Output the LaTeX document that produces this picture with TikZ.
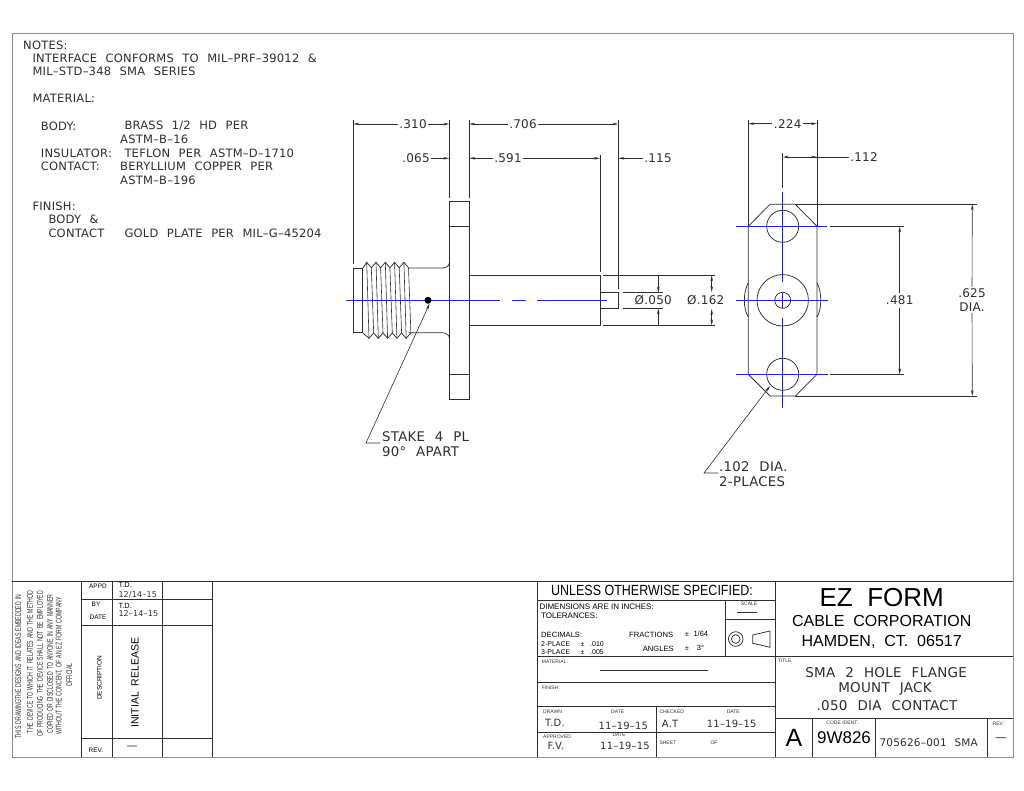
\documentclass[tikz,border=0pt]{standalone}
\usepackage{fontspec}
\setmainfont{Liberation Sans}
\newfontfamily\cadfont[WordSpace=2.2,LetterSpace=2]{DejaVu Sans}
\newfontfamily\headfont[WordSpace=2]{Liberation Sans}
\newfontfamily\condfont[FakeStretch=0.85]{Liberation Sans}
\newfontfamily\narrowfont[FakeStretch=0.62,WordSpace=1.5]{Liberation Sans}
\usetikzlibrary{arrows.meta}
\definecolor{clblue}{RGB}{35,35,205}
\definecolor{ink}{RGB}{45,45,45}
\tikzset{
  >={Stealth[length=6pt,width=2.6pt]},
  part/.style={draw=ink,line width=.75pt},
  dimline/.style={draw=ink,line width=.6pt},
  centerline/.style={draw=clblue,line width=.8pt},
  frameline/.style={draw=ink,line width=.7pt},
  big/.style={inner sep=0pt,text=ink,font=\cadfont\fontsize{#1}{#1}\selectfont},
  lbig/.style={big=#1,anchor=west},
  ltext/.style={lbig=11.5},
  cad/.style={big=12,inner sep=1.5pt},
  sans/.style={inner sep=0pt,text=black,font=\fontsize{#1}{#1}\selectfont},
  lsans/.style={sans=#1,anchor=west},
  head/.style={inner sep=0pt,text=black,font=\headfont\fontsize{#1}{#1}\selectfont},
  tiny/.style={inner sep=0pt,text=ink,font=\fontsize{5}{5}\selectfont},
  ltiny/.style={tiny,anchor=west},
  legal/.style={inner sep=0pt,rotate=90,text=ink,font=\narrowfont\fontsize{8.3}{8.3}\selectfont},
}
\begin{document}
\begin{tikzpicture}[x=1pt,y=-1pt]
\useasboundingbox (0,0) rectangle (1024,791);
\draw[draw=black!45,line width=.8pt] (12,33) rectangle (1013,757);
\node[ltext] (notes) at (23,45) {NOTES:};
\node[ltext] (iface) at (32.3,58.3) {INTERFACE CONFORMS TO MIL–PRF–39012 \&};
\node[ltext] (std) at (32.3,71.7) {MIL–STD–348 SMA SERIES};
\node[ltext] (material) at (32.3,98.3) {MATERIAL:};
\node[ltext] (body) at (40.7,126) {BODY:};
\node[ltext] (brass) at (124.3,126) {BRASS 1/2 HD PER};
\node[ltext] (astma) at (120,139.7) {ASTM–B–16};
\node[ltext] (insul) at (40.7,153) {INSULATOR:};
\node[ltext] (teflon) at (124.3,153) {TEFLON PER ASTM–D–1710};
\node[ltext] (contact) at (40.7,166.3) {CONTACT:};
\node[ltext] (beryl) at (120,166.3) {BERYLLIUM COPPER PER};
\node[ltext] (astmb) at (120,180) {ASTM–B–196};
\node[ltext] (finish) at (32.3,206.7) {FINISH:};
\node[ltext] (bodyc) at (48.3,219.3) {BODY \&};
\node[ltext] (contc) at (48.3,233) {CONTACT};
\node[ltext] (gold) at (124.3,233) {GOLD PLATE PER MIL–G–45204};
\draw[part] (362.7,268) -- (353.3,268) -- (353.3,332.7) -- (362.7,332.7) -- cycle;
\draw[part] (363,268) \foreach \i in {0,...,4} {-- ({366.7+9.3*\i},262.3) -- ({371.3+9.3*\i},267.8)};
\draw[part] (363,333) \foreach \i in {0,...,4} {-- ({369+9.3*\i},338.3) -- ({373.7+9.3*\i},333)};
\foreach \i in {0,...,4}{
  \draw[part,line width=.6pt] ({366.7+9.3*\i},262.3) -- ({369+9.3*\i},338.3);
  \draw[part,line width=.6pt] ({371.3+9.3*\i},267.8) -- ({373.7+9.3*\i},333);
}
\draw[part] (408.5,268) -- (442,268) .. controls (446,268) and (449.3,266) .. (449.3,263);
\draw[part] (408.5,332.7) -- (442,332.7) .. controls (446,332.7) and (449.3,335) .. (449.3,338);
\draw[part] (449.3,201.3) rectangle (469.3,399.3);
\draw[part] (449.3,226) -- (469.3,226) (449.3,374.3) -- (469.3,374.3);
\draw[part] (469.3,275.3) rectangle (600,325.3);
\draw[part] (600,292.7) rectangle (618.3,308.3);
\draw[centerline] (346,300.3) -- (500,300.3) (512,300.3) -- (526,300.3) (537,300.3) -- (606.7,300.3);
\node[circle,fill=black,minimum size=7pt,inner sep=0pt] (stakedot) at (428,300.3) {};
\node[lbig=13.3] (stake) at (382,437) {STAKE 4 PL};
\node[lbig=13.3] (apart) at (382,451.7) {90° APART};
\draw[dimline,<-] (stakedot.-65) -- (366,443) -- (380,443);
\draw[dimline] (353.3,120) -- (353.3,264) (449.3,120) -- (449.3,197.7) (469.3,120) -- (469.3,197.7);
\draw[dimline] (618.3,120) -- (618.3,289.3) (600,155) -- (600,271.7);
\node[cad] (d310) at (413,124) {.310};
\node[cad] (d706) at (523,124) {.706};
\node[cad] (d065) at (416,158.3) {.065};
\node[cad] (d591) at (508,158.3) {.591};
\node[cad] (d115) at (658,158.3) {.115};
\draw[dimline,<-] (353.3,124) -- (d310.west);
\draw[dimline,->] (d310.east) -- (449.3,124);
\draw[dimline,<-] (469.3,124) -- (d706.west);
\draw[dimline,->] (d706.east) -- (618.3,124);
\draw[dimline,->] (d065.east) -- (449.3,158.3);
\draw[dimline,<-] (469.3,158.3) -- (d591.west);
\draw[dimline,->] (d591.east) -- (600,158.3);
\draw[dimline,<-] (618.3,158.3) -- (d115.west);
\draw[dimline] (603,275.3) -- (715,275.3) (603,325.3) -- (715,325.3);
\draw[dimline] (622.7,292.7) -- (662.7,292.7) (622.7,308.3) -- (662.7,308.3);
\node[cad] (dpin) at (653.3,300.5) {Ø.050};
\node[cad] (dshell) at (705.7,300) {Ø.162};
\draw[dimline,->] (658.3,275.3) -- (658.3,292.7);
\draw[dimline,->] (658.3,325.3) -- (658.3,308.3);
\draw[dimline,<->] (711.7,292) -- (711.7,275.3);
\draw[dimline,<->] (711.7,309) -- (711.7,325.3);
\draw[part] (770,204.3) -- (795.3,204.3) -- (817,226.3) -- (817,374.3) -- (795.3,396) -- (770,396) -- (748.3,374.3) -- (748.3,226.3) -- cycle;
\draw[part] (782.7,226.3) circle (16) (782.7,374.3) circle (16) (782.7,300.3) circle (25.7) (782.7,300.3) circle (8);
\draw[part] (748.3,282.7) .. controls (743,292) and (743,309) .. (748.3,317);
\draw[part] (817,282.7) .. controls (822,292) and (822,309) .. (817,317);
\draw[centerline] (736.3,226.3) -- (826.7,226.3) (736.3,300.3) -- (828,300.3) (736.3,374.3) -- (828,374.3);
\draw[centerline] (782.7,191.7) -- (782.7,281.7) (782.7,292.7) -- (782.7,308) (782.7,318.3) -- (782.7,408.3);
\node[cad] (d224) at (787.7,123.7) {.224};
\node[cad] (d112) at (864,157) {.112};
\node[cad,inner ysep=3pt] (d481) at (899.7,300.5) {.481};
\node[cad] (d625) at (972,293) {.625};
\node[cad] (ddia) at (972,306.7) {DIA.};
\draw[dimline] (748.3,120) -- (748.3,226.3) (817,120) -- (817,226.3) (782.7,153) -- (782.7,188);
\draw[dimline,<-] (748.3,123.7) -- (d224.west);
\draw[dimline,->] (d224.east) -- (817,123.7);
\draw[dimline,<-] (782.7,157) -- (d112.west);
\draw[dimline,->] (795,157) -- (817,157);
\draw[dimline] (795.3,204.3) -- (976.7,204.3) (795.3,396) -- (976.7,396);
\draw[dimline] (830,226.3) -- (904,226.3) (830,374.3) -- (904,374.3);
\draw[dimline,<-] (899.7,226.3) -- (d481.north);
\draw[dimline,<-] (899.7,374.3) -- (d481.south);
\draw[dimline,<-] (972.3,204.3) -- (d625.north);
\draw[dimline,<-] (972.3,396) -- (ddia.south);
\node[lbig=13.3] (hole) at (719,466.7) {.102 DIA.};
\node[lbig=13.3] (places) at (719,481.7) {2-PLACES};
\draw[dimline,<-] (770,386) -- (704,473) -- (718,473);
% title block
\draw[frameline] (12,581) -- (1013,581);
\foreach \xpos in {81,112.3,162.3,212.3,537.7,775}{\draw[frameline] (\xpos,581) -- (\xpos,757);}
\foreach \ypos in {599,625,738.3}{\draw[frameline] (81,\ypos) -- (212.3,\ypos);}
\foreach \ypos in {600,656,682.3,706.7,732.3}{\draw[frameline] (537.7,\ypos) -- (775,\ypos);}
\draw[frameline] (725,600) -- (725,656) (725,619.3) -- (775,619.3) (656,706.7) -- (656,757);
\draw[frameline] (775,656.7) -- (1013,656.7) (775,718.7) -- (1013,718.7);
\draw[frameline] (812.3,718.7) -- (812.3,757) (875,718.7) -- (875,757) (987.3,718.7) -- (987.3,757);
\node[legal] (lega) at (18.3,666.5) {THIS DRAWINGTHE DESIGNS AND IDEAS EMBEDDED IN};
\node[legal] (legb) at (30,662) {THE DEVICE TO WHICH IT RELATES AND THE METHOD};
\node[legal] (legc) at (40,664) {OF PRODUCING THE DEVICE SHALL NOT BE EMPLOYED};
\node[legal] (legd) at (50,664) {COPIED OR DISCLOSED TO ANYONE IN ANY MANNER};
\node[legal] (lege) at (59.3,666) {WITHOUT THE CONCENT, OF AN EZ FORM COMPANY};
\node[legal] (legf) at (69.3,675) {OFFICIAL};
\node[sans=6.5] (appd) at (98,586.7) {APPD};
\node[sans=6.5] (by) at (96,604) {BY};
\node[sans=6.5] (bydate) at (98,617) {DATE};
\node[sans=6.5,rotate=90] (descr) at (99.3,677.7) {DESCRIPTION};
\node[sans=6.5] (rev) at (96,750) {REV.};
\node[lsans=7.5] (td) at (118.3,585) {T.D.};
\node[lbig=8] (appdate) at (118.3,595) {12/14–15};
\node[lsans=7.5] (tdb) at (118.3,606) {T.D.};
\node[lbig=8] (bdate) at (118.3,614) {12–14–15};
\node[sans=10.5,rotate=90] (release) at (135,682.7) {INITIAL\ \ RELEASE};
\node[big=11] (revdash) at (132,748) {—};
\node[inner sep=0pt,text=black,font=\condfont\fontsize{14.7}{14.7}\selectfont] (unless) at (652,590) {UNLESS OTHERWISE SPECIFIED:};
\node[lsans=8] (dims) at (539.3,606.7) {DIMENSIONS ARE IN INCHES:};
\node[lsans=8] (tols) at (541,615.3) {TOLERANCES:};
\node[lsans=7.6] (decs) at (541,635.3) {DECIMALS:};
\node[lsans=7] (twop) at (541,644) {2-PLACE};
\node[lsans=7] (threep) at (541,652) {3-PLACE};
\node[lsans=7] (twopm) at (580.5,644) {±};
\node[lsans=7] (threepm) at (580.5,652) {±};
\node[lsans=7] (twov) at (590,644) {.010};
\node[lsans=7] (threev) at (590,652) {.005};
\node[lsans=7.6] (fracs) at (629,635) {FRACTIONS};
\node[lsans=7.6] (angs) at (642.7,649) {ANGLES};
\node[lsans=7] (fracpm) at (685,634) {±};
\node[lsans=7] (angpm) at (685,648) {±};
\node[lsans=7.5] (fracv) at (693.3,634) {1/64};
\node[lsans=7.5] (angv) at (696.7,648) {3°};
\node[tiny] (scale) at (749,604) {SCALE};
\draw[frameline] (737,612) -- (757,612);
\draw[part] (735.7,639) circle (7.3) (735.7,639) circle (4.3);
\draw[part] (752.7,635) -- (770,631) -- (770,647.3) -- (752.7,643.3) -- cycle;
\node[ltiny] (matl) at (541.7,661.3) {MATERIAL:};
\draw[dimline] (600,670.3) -- (708.3,670.3);
\node[ltiny] (fin) at (541.7,687.3) {FINISH:};
\node[ltiny] (drawn) at (543,712) {DRAWN};
\node[tiny] (dateone) at (617.7,712) {DATE};
\node[ltiny] (checked) at (659.3,711.3) {CHECKED};
\node[tiny] (datetwo) at (733.3,711.3) {DATE};
\node[lbig=10] (drawnby) at (545,723.3) {T.D.};
\node[lbig=10] (drawndate) at (598.3,725.7) {11–19–15};
\node[lbig=10] (checkby) at (661.7,724) {A.T};
\node[lbig=10] (checkdate) at (706.7,724) {11–19–15};
\node[ltiny] (appr) at (543,736.7) {APPROVED};
\node[tiny] (datethree) at (619,735) {DATE};
\node[ltiny] (sheet) at (659.3,742.7) {SHEET};
\node[tiny] (of) at (714,742.7) {OF};
\node[lbig=10] (apprby) at (547.3,746) {F.V.};
\node[lbig=10] (apprdate) at (600,745.7) {11–19–15};
\node[head=26] (ezform) at (881.7,598) {EZ FORM};
\node[head=16] (cable) at (881.7,621) {CABLE CORPORATION};
\node[head=16] (hamden) at (881.7,642) {HAMDEN, CT. 06517};
\node[ltiny] (titlelbl) at (777.7,661) {TITLE};
\node[big=13.5] (tone) at (886.2,672.7) {SMA 2 HOLE FLANGE};
\node[big=13.5] (ttwo) at (885,689.3) {MOUNT JACK};
\node[big=13.5] (tthree) at (887,706) {.050 DIA CONTACT};
\node[sans=25] (sizea) at (794,737.7) {A};
\node[tiny] (code) at (842.3,723) {CODE IDENT.};
\node[sans=17] (cage) at (844,738) {9W826};
\node[lbig=10.5] (dwg) at (879.3,742.3) {705626–001 SMA};
\node[tiny] (revlbl) at (998.3,723.7) {REV.};
\node[big=12] (revval) at (1001,739.3) {—};
\end{tikzpicture}
\end{document}
